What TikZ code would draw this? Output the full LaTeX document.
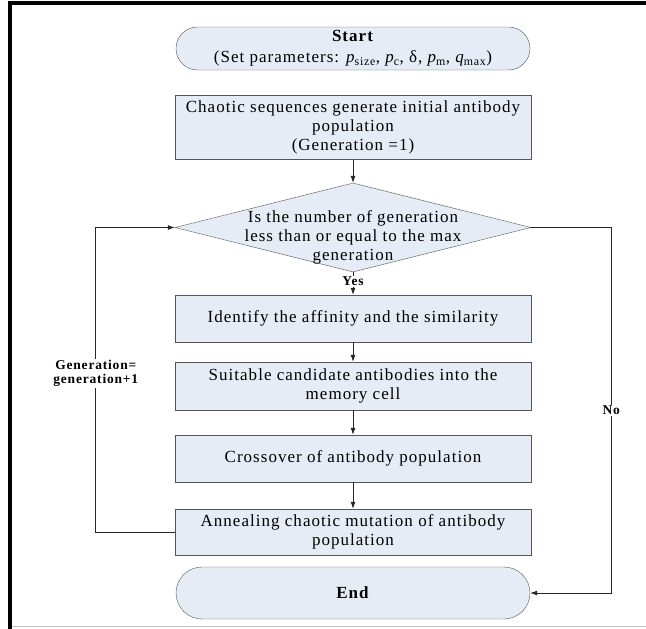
\documentclass[tikz,border=0pt]{standalone}
\usepackage{fontspec}
\setmainfont{Liberation Serif}[LetterSpace=6]
\usepackage{xcolor}
\usetikzlibrary{shapes.geometric,shapes.misc,arrows.meta}

\definecolor{cellfill}{RGB}{230,236,246}
\definecolor{cellline}{RGB}{85,85,85}

\tikzset{
  every node/.style={font=\fontsize{17}{19}\selectfont},
  process/.style={rectangle, draw=cellline, fill=cellfill, minimum width=356pt, align=center, inner sep=1pt},
  terminal/.style={rounded rectangle, draw=cellline, fill=cellfill, minimum width=356pt, minimum height=52pt, align=center, inner sep=1pt},
  decision/.style={diamond, draw=cellline, fill=cellfill, minimum width=356pt, minimum height=89pt, inner sep=0pt},
  flag/.style={font=\fontsize{13.5}{14}\selectfont\bfseries, fill=white, inner sep=1pt, align=center},
  link/.style={draw=black!85, line width=0.8pt}
}

\begin{document}
\begin{tikzpicture}[>={Latex[length=7pt,width=5pt]}, x=1pt, y=1pt]
\useasboundingbox (0,0) rectangle (646,-629);
% page frame
\draw[line width=4pt] (10,-629) -- (10,-3) -- (646,-3);
\draw[gray!50, line width=1pt] (12,-626) -- (646,-626);

\node[terminal, minimum height=43pt] (start) at (353,-48.5) {\textbf{Start}\\[2pt]
  (Set parameters: {\itshape p}\textsubscript{size}, {\itshape p}\textsubscript{c}, δ, {\itshape p}\textsubscript{m}, {\itshape q}\textsubscript{max})};
\node[process, below of=start, node distance=79pt, minimum height=64pt] (init)
  {Chaotic sequences generate initial antibody\\population\\(Generation =1)};

\node[decision, below of=init, node distance=100pt] (dec) {};
\node[below of=dec, node distance=10pt, align=center] (dectext)
  {Is the number of generation\\less than or equal to the max\\generation};

\node[process, below of=dec, node distance=91pt, minimum height=47pt] (ident)
  {Identify the affinity and the similarity};
\node[process, below of=ident, node distance=67.5pt, minimum height=48pt] (suit)
  {Suitable candidate antibodies into the\\memory cell};
\node[process, below of=suit, node distance=72.5pt, minimum height=47pt] (cross)
  {Crossover of antibody population};
\node[process, below of=cross, node distance=73.5pt, minimum height=46pt] (anneal)
  {Annealing chaotic mutation of antibody\\population};
\node[terminal, below of=anneal, node distance=61pt] (end) {\textbf{End}};

% main flow
\draw[link,->] (init) -- (dec);
\draw[link,->] (dec.south) -- node[flag, pos=0.4] (yes) {Yes} (ident.north);
\draw[link,->] (ident) -- (suit);
\draw[link,->] (suit) -- (cross);
\draw[link,->] (cross) -- (anneal);

% loop back and exit
\draw[link,->] (anneal.west) -- ++(-79,0) |- node[flag, pos=0.26] (incr) {Generation=\\generation+1} (dec.west);
\draw[link,->] (dec.east) -- ++(80,0) |- node[flag, pos=0.25] (no) {No} (end.east);
\end{tikzpicture}
\end{document}
